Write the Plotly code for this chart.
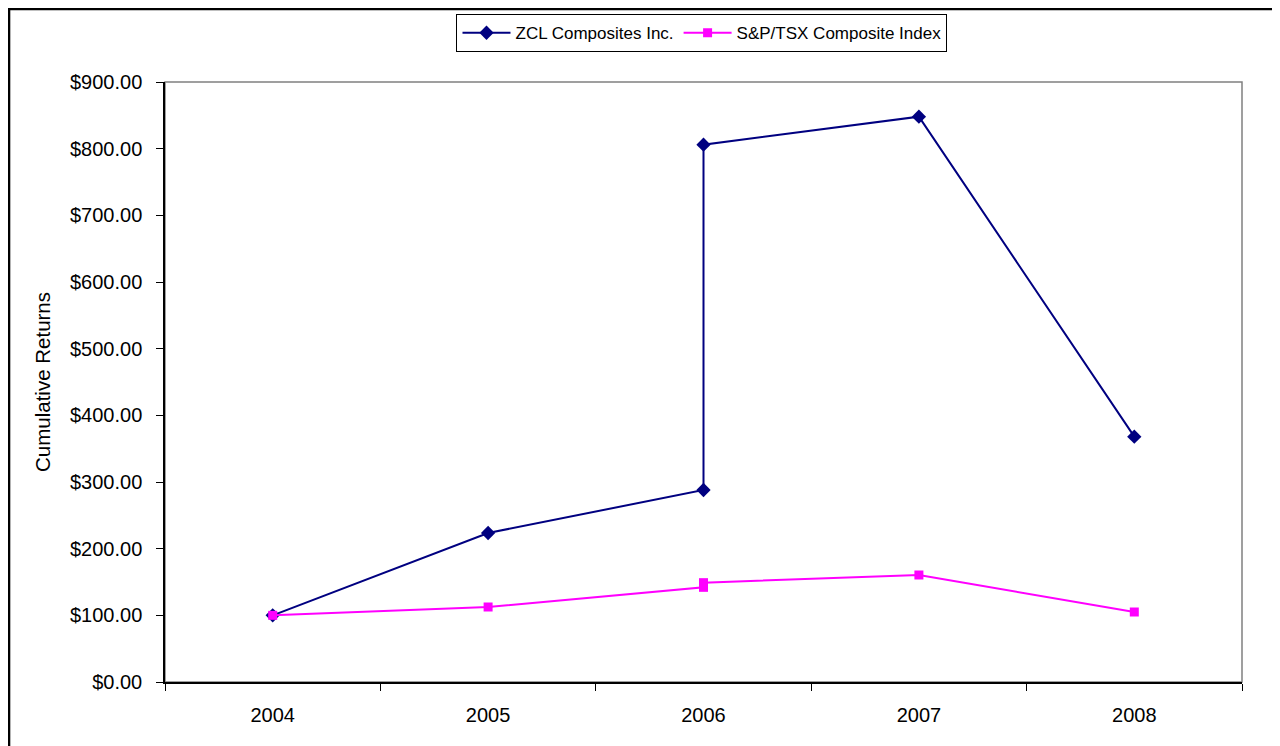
import plotly.graph_objects as go

years = ["2004", "2005", "2006", "2006", "2007", "2008"]
year_labels = ["2004", "2005", "2006", "2007", "2008"]
zcl = [100.0, 223.5, 288.0, 806.0, 848.0, 368.0]
sptsx = [100.0, 112.5, 142.0, 149.0, 160.5, 105.0]
y_ticks = [0, 100, 200, 300, 400, 500, 600, 700, 800, 900]

FONT = "Liberation Sans, Arial, sans-serif"

fig = go.Figure()
fig.add_trace(go.Scatter(
    x=years, y=zcl, name="ZCL Composites Inc.", mode="lines+markers",
    line=dict(color="#000080", width=2),
    marker=dict(symbol="diamond", size=11, color="#000080"),
))
fig.add_trace(go.Scatter(
    x=years, y=sptsx, name="S&P/TSX Composite Index", mode="lines+markers",
    line=dict(color="#FF00FF", width=2),
    marker=dict(symbol="square", size=9, color="#FF00FF"),
))

fig.update_layout(
    width=1272, height=738,
    margin=dict(l=157, r=38, t=74, b=64, autoexpand=False),
    paper_bgcolor="white", plot_bgcolor="white",
    font=dict(family=FONT, color="black", size=20),
    showlegend=True,
    legend=dict(
        orientation="h", x=0.4986, y=1.113, xanchor="center", yanchor="top",
        bordercolor="black", borderwidth=1, bgcolor="white",
        font=dict(size=17, family=FONT), itemwidth=48,
        tracegroupgap=0,
    ),
    xaxis=dict(
        type="category", categoryorder="array", categoryarray=year_labels,
        range=[-0.5, 4.5], tickson="boundaries", ticks="outside", ticklen=7,
        tickcolor="black", showline=True, linecolor="black", linewidth=1.5,
        showgrid=False, zeroline=False, tickfont=dict(size=20),
        ticklabelstandoff=14,
    ),
    yaxis=dict(
        range=[0, 900], tickvals=y_ticks, tickformat="$,.2f",
        ticks="outside", ticklen=7, tickcolor="black",
        showline=True, linecolor="black", linewidth=1.5,
        showgrid=False, zeroline=False, tickfont=dict(size=20),
        ticklabelstandoff=10,
        title=dict(text="Cumulative Returns", font=dict(size=20.5), standoff=14),
    ),
    shapes=[
        dict(type="rect", xref="paper", yref="paper", x0=0, x1=1, y0=0, y1=1,
             line=dict(color="#808080", width=1.5), layer="below"),
        dict(type="rect", xref="paper", yref="paper", x0=-0.1448, x1=1.2,
             y0=-0.3, y1=1.1217, line=dict(color="black", width=2.5),
             layer="below"),
    ],
)

fig.write_html("out.html")
